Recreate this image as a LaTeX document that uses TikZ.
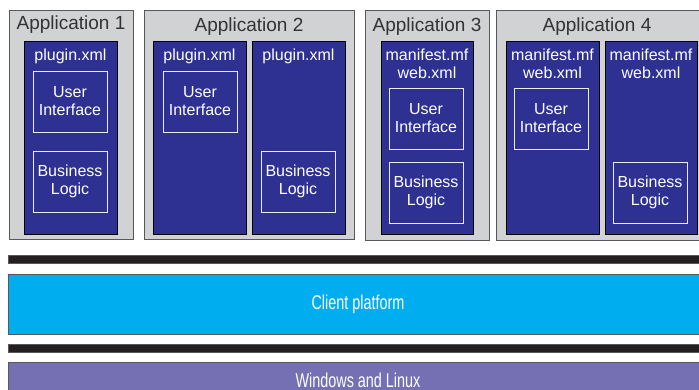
\documentclass[tikz,border=0pt]{standalone}
\usepackage{fontspec}
\setmainfont{Liberation Sans}
\newfontfamily\narrowfont[FakeStretch=0.72]{Liberation Sans}
\usepackage{tikz}

\definecolor{appgray}{HTML}{D1D2D4}
\definecolor{framegray}{HTML}{58595B}
\definecolor{bundleblue}{HTML}{2E3192}
\definecolor{barblack}{HTML}{231F20}
\definecolor{clientcyan}{HTML}{00AEEF}
\definecolor{ospurple}{HTML}{7570B3}

\begin{document}
\begin{tikzpicture}[x=1pt,y=-1pt,
        box/.style={anchor=north west,inner sep=0pt,outer sep=0pt},
        appbox/.style={box,fill=appgray,draw=framegray,line width=0.8pt},
        bundle/.style={box,fill=bundleblue,draw=black,line width=0.6pt},
        part/.style={box,draw=white!85!gray,line width=0.7pt,minimum width=74pt,minimum height=61pt},
        apptitle/.style={text=black!80,font=\fontsize{19}{21}\selectfont},
        bundletext/.style={text=white,align=center,font=\fontsize{16}{18}\selectfont},
        bar/.style={box,fill=barblack,draw=framegray,line width=0.6pt,minimum width=700pt,minimum height=8pt},
        layer/.style={box,draw=framegray,line width=0.8pt,minimum width=700pt},
        layertext/.style={text=white,font=\narrowfont\fontsize{20}{22}\selectfont}]
        \useasboundingbox (0,0) rectangle (699,390);
        \clip (0,0) rectangle (699,390);
        % application 1
        \node[appbox,minimum width=124pt,minimum height=229pt] (app1) at (9,10) {};
        \node[apptitle] (title1) at (71,25) {Application 1};
        \node[bundle,minimum width=93pt,minimum height=193pt] (b1) at (24,41) {};
        \node[bundletext] (desc1) at (70.5,56) {plugin.xml};
        \node[part] (ui1) at (33,71) {};
        \node[bundletext] at (ui1.center) {User\\Interface};
        \node[part] (bl1) at (33,151) {};
        \node[bundletext] at (bl1.center) {Business\\Logic};
        % application 2
        \node[appbox,minimum width=210pt,minimum height=229pt] (app2) at (144,10) {};
        \node[apptitle] (title2) at (249,27) {Application 2};
        \node[bundle,minimum width=93pt,minimum height=193pt] (b2a) at (153,41) {};
        \node[bundletext] (desc2a) at (199.5,56) {plugin.xml};
        \node[part] (ui2) at (163,71) {};
        \node[bundletext] at (ui2.center) {User\\Interface};
        \node[bundle,minimum width=93pt,minimum height=193pt] (b2b) at (252,41) {};
        \node[bundletext] (desc2b) at (298.5,56) {plugin.xml};
        \node[part] (bl2) at (261,151) {};
        \node[bundletext] at (bl2.center) {Business\\Logic};
        % application 3
        \node[appbox,minimum width=124pt,minimum height=230pt] (app3) at (365,10) {};
        \node[apptitle] (title3) at (427,27) {Application 3};
        \node[bundle,minimum width=92pt,minimum height=193pt] (b3) at (381,41) {};
        \node[bundletext] (desc3) at (427,64) {manifest.mf\\web.xml};
        \node[part] (ui3) at (389,88) {};
        \node[bundletext] at (ui3.center) {User\\Interface};
        \node[part] (bl3) at (389,162) {};
        \node[bundletext] at (bl3.center) {Business\\Logic};
        % application 4
        \node[appbox,minimum width=210pt,minimum height=230pt] (app4) at (496,10) {};
        \node[apptitle] (title4) at (597,27) {Application 4};
        \node[bundle,minimum width=93pt,minimum height=193pt] (b4a) at (506,41) {};
        \node[bundletext] (desc4a) at (552.5,64) {manifest.mf\\web.xml};
        \node[part] (ui4) at (514,88) {};
        \node[bundletext] at (ui4.center) {User\\Interface};
        \node[bundle,minimum width=92pt,minimum height=193pt] (b4b) at (605,41) {};
        \node[bundletext] (desc4b) at (651,64) {manifest.mf\\web.xml};
        \node[part] (bl4) at (613,162) {};
        \node[bundletext] at (bl4.center) {Business\\Logic};
        % platform layers
        \node[bar] (bar1) at (8,255) {};
        \node[layer,fill=clientcyan,minimum height=60pt] (client) at (8,274) {};
        \node[layertext] at (358,304) {Client platform};
        \node[bar] (bar2) at (8,344) {};
        \node[layer,fill=ospurple,minimum height=40pt] (os) at (8,362) {};
        \node[layertext] at (358,380) {Windows and Linux};
\end{tikzpicture}
\end{document}
